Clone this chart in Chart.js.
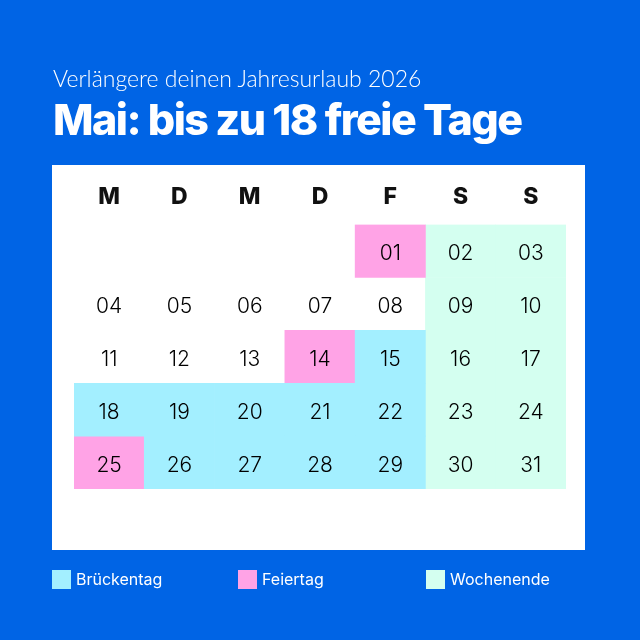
<!DOCTYPE html>
<html lang="de">
<head>
<meta charset="utf-8">
<title>Mai 2026</title>
<script src="https://cdn.jsdelivr.net/npm/chart.js@4"></script>
<style>
    html, body { margin: 0; padding: 0; }
    body { width: 640px; height: 640px; background: #0064e5; position: relative; overflow: hidden; color: #fff; }
    #panel { position: absolute; left: 52px; top: 165px; width: 533px; height: 385px; background: #fff; }
    #chart { position: absolute; left: 0; top: 0; }
    #subtitle { position: absolute; left: 53px; top: 64px; margin: 0; font: 300 23px/28px Lato, sans-serif; white-space: nowrap; }
    #title { position: absolute; left: 53px; top: 92px; margin: 0; font: 800 43px/54px Inter, sans-serif; letter-spacing: -1.55px; white-space: nowrap; }
    .legend-item { position: absolute; top: 570px; height: 19px; font: 400 16px/19px Inter, sans-serif; white-space: nowrap; }
    .legend-item i { display: inline-block; width: 19px; height: 19px; vertical-align: top; margin-right: 5px; }
</style>
</head>
<body>
<div id="panel"></div>
<canvas id="chart" width="640" height="640"></canvas>
<p id="subtitle">Verlängere deinen Jahresurlaub 2026</p>
<h1 id="title">Mai: bis zu 18 freie Tage</h1>
<div id="legend"></div>
<script>
const columns = ['Mo', 'Di', 'Mi', 'Do', 'Fr', 'Sa', 'So'];
const weekdays = ['M', 'D', 'M', 'D', 'F', 'S', 'S'];
const firstDayColumn = 4; // 1 May 2026 is a Friday
const daysInMonth = 31;
const bridgeDays = [15, 18, 19, 20, 21, 22, 26, 27, 28, 29];
const holidays = [1, 14, 25];
const weekendDays = [2, 3, 9, 10, 16, 17, 23, 24, 30, 31];

const legendLeft = [52, 238, 426];

// calendar position of a day: column = weekday, y = week row
function dayCell(day) {
    const slot = day - 1 + firstDayColumn;
    return { col: slot % 7, row: Math.floor(slot / 7) };
}

function toBars(days) {
    return days.map(day => {
        const { col, row } = dayCell(day);
        return { x: columns[col], y: [row, row + 1] };
    });
}

// Day numbers sit on top of the bars, placed through the chart's scales
const dayNumbers = {
    id: 'dayNumbers',
    afterDatasetsDraw(chart) {
        const { ctx, scales: { x, y } } = chart;
        ctx.save();
        ctx.font = '300 21px Inter, sans-serif';
        ctx.fillStyle = '#000000';
        ctx.textAlign = 'center';
        ctx.textBaseline = 'middle';
        for (let day = 1; day <= daysInMonth; day++) {
            const { col, row } = dayCell(day);
            ctx.fillText(String(day).padStart(2, '0'), x.getPixelForValue(col), y.getPixelForValue(row + 0.5) + 3);
        }
        ctx.restore();
    }
};

const chart = new Chart(document.getElementById('chart').getContext('2d'), {
    type: 'bar',
    data: {
        labels: columns,
        datasets: [
            { label: 'Brückentag', data: toBars(bridgeDays), backgroundColor: '#a3efff' },
            { label: 'Feiertag', data: toBars(holidays), backgroundColor: '#ffa3e6' },
            { label: 'Wochenende', data: toBars(weekendDays), backgroundColor: '#d4fff0' }
        ]
    },
    options: {
        responsive: false,
        animation: false,
        devicePixelRatio: 1,
        grouped: false,
        barPercentage: 1,
        categoryPercentage: 1,
        borderWidth: 0,
        layout: { padding: { left: 74, right: 74, top: 177, bottom: 151 } },
        plugins: {
            legend: { display: false },
            tooltip: { enabled: false }
        },
        scales: {
            x: {
                position: 'top',
                grid: { display: false },
                border: { display: false },
                ticks: {
                    color: '#111111',
                    font: { family: 'Inter, sans-serif', size: 23, weight: '800' },
                    padding: 6,
                    autoSkip: false,
                    maxRotation: 0,
                    callback: (value, index) => weekdays[index]
                }
            },
            y: {
                display: false,
                reverse: true,
                min: 0,
                max: 5
            }
        }
    },
    plugins: [dayNumbers]
});

// legend is laid out by hand below the white panel, built from the datasets
const legendBox = document.getElementById('legend');
chart.data.datasets.forEach((dataset, i) => {
    const item = document.createElement('div');
    item.className = 'legend-item';
    item.style.left = legendLeft[i] + 'px';
    const swatch = document.createElement('i');
    swatch.style.background = dataset.backgroundColor;
    item.appendChild(swatch);
    item.appendChild(document.createTextNode(dataset.label));
    legendBox.appendChild(item);
});
</script>
</body>
</html>
